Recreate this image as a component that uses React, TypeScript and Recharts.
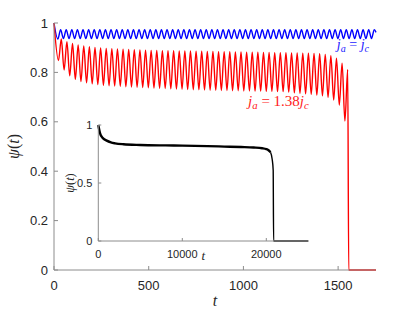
import React from 'react'
import { LineChart, Line, XAxis, YAxis, ReferenceDot } from 'recharts'

// sampling grid of the main plot: first trough time and half period
const RED_T0 = 23.7
const RED_HALF = 14.825
const BLUE_T0 = 20.2
const BLUE_HALF = 14.786

// j_a = 1.38 j_c : troughs and peaks, one pair per period
const redTroughs = [
  0.848, 0.81, 0.786, 0.772, 0.763, 0.758, 0.754, 0.751, 0.748, 0.746,
  0.745, 0.744, 0.742, 0.741, 0.74, 0.739, 0.738, 0.737, 0.736, 0.735,
  0.734, 0.733, 0.732, 0.731, 0.73, 0.73, 0.729, 0.728, 0.728, 0.727,
  0.727, 0.726, 0.726, 0.725, 0.725, 0.724, 0.724, 0.723, 0.723, 0.722,
  0.722, 0.72, 0.717, 0.715, 0.713, 0.711, 0.708, 0.705, 0.699, 0.688,
  0.668, 0.603,
]
const redPeaks = [
  0.935, 0.924, 0.917, 0.911, 0.907, 0.904, 0.901, 0.899, 0.897, 0.896,
  0.895, 0.894, 0.893, 0.892, 0.891, 0.89, 0.889, 0.889, 0.888, 0.888,
  0.888, 0.887, 0.887, 0.887, 0.886, 0.886, 0.885, 0.885, 0.884, 0.884,
  0.884, 0.883, 0.883, 0.882, 0.882, 0.882, 0.881, 0.881, 0.88, 0.88,
  0.88, 0.879, 0.879, 0.878, 0.878, 0.877, 0.876, 0.873, 0.868, 0.857,
  0.837, 0.812,
]
const redHead = [{ t: 0, v: 1 }]
const redTail = [{ t: 1556, v: 0 }, { t: 1700, v: 0 }]

// j_a = j_c
const blueTroughs = [
  0.935, 0.937, 0.937, 0.937, 0.937, 0.937, 0.937, 0.937, 0.937, 0.937,
  0.937, 0.937, 0.937, 0.937, 0.937, 0.937, 0.937, 0.937, 0.937, 0.937,
  0.937, 0.937, 0.937, 0.937, 0.937, 0.937, 0.937, 0.937, 0.937, 0.937,
  0.937, 0.937, 0.937, 0.937, 0.937, 0.937, 0.937, 0.937, 0.937, 0.937,
  0.937, 0.937, 0.937, 0.937, 0.937, 0.937, 0.937, 0.937, 0.937, 0.937,
  0.937, 0.937, 0.937, 0.937, 0.937, 0.937, 0.937,
]
const bluePeaks = [
  0.973, 0.973, 0.973, 0.973, 0.973, 0.973, 0.973, 0.973, 0.973, 0.973,
  0.973, 0.973, 0.973, 0.973, 0.973, 0.973, 0.973, 0.973, 0.973, 0.973,
  0.973, 0.973, 0.973, 0.973, 0.973, 0.973, 0.973, 0.973, 0.973, 0.973,
  0.973, 0.973, 0.973, 0.973, 0.973, 0.973, 0.973, 0.973, 0.973, 0.973,
  0.973, 0.973, 0.973, 0.973, 0.973, 0.973, 0.973, 0.973, 0.973, 0.973,
  0.973, 0.973, 0.973, 0.973, 0.973, 0.973, 0.973,
]
const blueHead = [{ t: 0, v: 1 }]
const blueTail = [{ t: 1700, v: 0.962 }]

// inset: long run, slow decay then collapse
const insetPlateauT = [
  0, 200, 500, 1000, 1500, 2000, 3000, 5000, 8000, 10000, 13000, 15000,
  17000, 18500, 19500, 20000, 20300, 20500,
]
const insetPlateauV = [
  1, 0.93, 0.89, 0.865, 0.85, 0.842, 0.834, 0.828, 0.824, 0.822, 0.818, 0.814,
  0.81, 0.806, 0.8, 0.792, 0.78, 0.765,
]
const insetDropT = [20500, 20700, 20820, 20870, 25000]
const insetDropV = [0.765, 0.705, 0.61, 0, 0]

const mainXTicks = [0, 500, 1000, 1500]
const mainYTicks = [0, 0.2, 0.4, 0.6, 0.8, 1]
const insetXTicks = [0, 10000, 20000]
const insetYTicks = [0, 0.5, 1]

const blueLabelAt = { t: 1578, v: 0.893 }
const redLabelAt = { t: 1185, v: 0.662 }

function oscillation(head: any[], lows: number[], highs: number[], t0: number, half: number, tail: any[]) {
  const rows = [...head]
  lows.forEach((lo, k) => {
    rows.push({ t: t0 + 2 * k * half, v: lo })
    rows.push({ t: t0 + (2 * k + 1) * half, v: highs[k] })
  })
  return rows.concat(tail)
}

const redData = oscillation(redHead, redTroughs, redPeaks, RED_T0, RED_HALF, redTail)
const blueData = oscillation(blueHead, blueTroughs, bluePeaks, BLUE_T0, BLUE_HALF, blueTail)
const plateauData = insetPlateauT.map((t, i) => ({ t, v: insetPlateauV[i] }))
const dropData = insetDropT.map((t, i) => ({ t, v: insetDropV[i] }))

const AXIS = '#8c8c8c'
const TEXT = '#262626'
const SANS = '"Liberation Sans", Arial, Helvetica, sans-serif'
const SERIF = '"Liberation Serif", "Times New Roman", serif'

// matlab style ticks: marks point into the box
const BottomTick = (p: any) => (
  <g>
    <line x1={p.x} x2={p.x} y1={p.y} y2={p.y - p.len} stroke={AXIS} />
    {p.gap != null && (
      <text x={p.x} y={p.y + p.gap} textAnchor="middle" fontSize={p.size} fontFamily={SANS} fill={TEXT}>
        {p.payload.value}
      </text>
    )}
  </g>
)

const LeftTick = (p: any) => (
  <g>
    <line x1={p.x} x2={p.x + p.len} y1={p.y} y2={p.y} stroke={AXIS} />
    {p.gap != null && (
      <text x={p.x - p.gap} y={p.y + p.size * 0.36} textAnchor="end" fontSize={p.size} fontFamily={SANS} fill={TEXT}>
        {p.payload.value}
      </text>
    )}
  </g>
)

const TopTick = (p: any) => <line x1={p.x} x2={p.x} y1={p.y} y2={p.y + p.len} stroke={AXIS} />
const RightTick = (p: any) => <line x1={p.x} x2={p.x - p.len} y1={p.y} y2={p.y} stroke={AXIS} />

const XName = (p: any) => {
  const vb = p.viewBox
  return (
    <text x={vb.x + vb.width / 2 + p.dx} y={vb.y + p.dy} textAnchor="middle" fontSize={p.size} fontStyle="italic" fontFamily={SERIF} fill={TEXT}>
      t
    </text>
  )
}

const YName = (p: any) => {
  const vb = p.viewBox
  const x = vb.x + p.dx
  const y = vb.y + vb.height / 2
  return (
    <text x={x} y={y} transform={`rotate(-90 ${x} ${y})`} textAnchor="middle" fontSize={p.size} fontFamily={SERIF} fill={TEXT}>
      <tspan fontStyle="italic">ψ</tspan>(<tspan fontStyle="italic">t</tspan>)
    </text>
  )
}

const MathLabel = (p: any) => {
  const vb = p.viewBox
  return (
    <text x={vb.x} y={vb.y} textAnchor="middle" fontSize={p.size} fontFamily={SERIF} fill={p.color}>
      <tspan fontStyle="italic">j</tspan>
      <tspan fontStyle="italic" fontSize={p.size * 0.72} dy={3}>a</tspan>
      <tspan dy={-3}>{' = '}</tspan>
      {p.coef && <tspan>{p.coef}</tspan>}
      <tspan fontStyle="italic">j</tspan>
      <tspan fontStyle="italic" fontSize={p.size * 0.72} dy={3}>c</tspan>
    </text>
  )
}

export default function App() {
  return (
    <div style={{ position: 'absolute', left: 0, top: 0, width: 415, height: 312, background: '#fff' }}>
      <div style={{ position: 'absolute', left: 0, top: 0 }}>
        <LineChart width={415} height={312} margin={{ top: 23, right: 39, bottom: 0, left: 0 }}>
          <XAxis
            dataKey="t"
            type="number"
            domain={[0, 1700]}
            ticks={mainXTicks}
            interval={0}
            height={42}
            tickSize={0}
            tickMargin={0}
            tickLine={false}
            axisLine={{ stroke: AXIS }}
            tick={(p: any) => <BottomTick {...p} len={4} size={13} gap={20} />}
            label={<XName dx={0} dy={36} size={16} />}
          />
          <XAxis
            xAxisId="top"
            orientation="top"
            dataKey="t"
            type="number"
            domain={[0, 1700]}
            ticks={mainXTicks}
            interval={0}
            height={0}
            tickSize={0}
            tickMargin={0}
            tickLine={false}
            axisLine={{ stroke: AXIS }}
            tick={(p: any) => <TopTick {...p} len={4} />}
          />
          <YAxis
            type="number"
            domain={[0, 1]}
            ticks={mainYTicks}
            interval={0}
            width={54}
            tickSize={0}
            tickMargin={0}
            tickLine={false}
            axisLine={{ stroke: AXIS }}
            tick={(p: any) => <LeftTick {...p} len={4} size={13} gap={6} />}
            label={<YName dx={19} size={16} />}
          />
          <YAxis
            yAxisId="right"
            orientation="right"
            type="number"
            domain={[0, 1]}
            ticks={mainYTicks}
            interval={0}
            width={0}
            tickSize={0}
            tickMargin={0}
            tickLine={false}
            axisLine={{ stroke: AXIS }}
            tick={(p: any) => <RightTick {...p} len={4} />}
          />
          <Line data={blueData} dataKey="v" type="monotone" stroke="#0000ff" strokeWidth={1.4} dot={false} isAnimationActive={false} />
          <Line data={redData} dataKey="v" type="monotone" stroke="#ff0000" strokeWidth={1.4} dot={false} isAnimationActive={false} />
          <ReferenceDot x={blueLabelAt.t} y={blueLabelAt.v} r={0} fill="none" stroke="none" label={<MathLabel color="#1a1aff" size={14} />} />
          <ReferenceDot x={redLabelAt.t} y={redLabelAt.v} r={0} fill="none" stroke="none" label={<MathLabel color="#ff1a1a" size={15} coef="1.38" />} />
        </LineChart>
      </div>
      <div style={{ position: 'absolute', left: 60, top: 115 }}>
        <LineChart width={260} height={155} margin={{ top: 10, right: 11.7, bottom: 0, left: 0 }}>
          <XAxis
            dataKey="t"
            type="number"
            domain={[0, 25000]}
            ticks={insetXTicks}
            interval={0}
            height={29}
            tickSize={0}
            tickMargin={0}
            tickLine={false}
            axisLine={{ stroke: AXIS }}
            tick={(p: any) => <BottomTick {...p} len={3} size={11} gap={16.5} />}
            label={<XName dx={0} dy={19} size={13} />}
          />
          <YAxis
            type="number"
            domain={[0, 1]}
            ticks={insetYTicks}
            interval={0}
            width={38.3}
            tickSize={0}
            tickMargin={0}
            tickLine={false}
            axisLine={{ stroke: AXIS }}
            tick={(p: any) => <LeftTick {...p} len={3} size={11} gap={6} />}
            label={<YName dx={13.5} size={12.5} />}
          />
          <Line data={plateauData} dataKey="v" type="monotone" stroke="#000000" strokeWidth={2.4} dot={false} isAnimationActive={false} />
          <Line data={dropData} dataKey="v" type="monotone" stroke="#000000" strokeWidth={1.4} dot={false} isAnimationActive={false} />
        </LineChart>
      </div>
    </div>
  )
}
